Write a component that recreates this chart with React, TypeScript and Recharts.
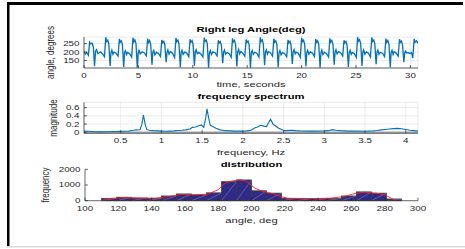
import { LineChart, Line, XAxis, YAxis, CartesianGrid, ComposedChart, ReferenceArea, ReferenceLine } from "recharts";

const FONT = "'Liberation Sans', Arial, Helvetica, sans-serif";
const SX = 1.4; // the source figure is stretched sideways
const INK = "#262626";

// --- time series ---
const timeTicks = [0, 5, 10, 15, 20, 25, 30];
const angleTicks = [150, 200, 250];
const angleSamples: [number, number][] = [
  [0, 205], [0.12, 188], [0.25, 198], [0.4, 182], [0.52, 258], [0.62, 248], [0.75, 252], [0.86, 230], [0.97, 116], [1.06, 205], [1.15, 214], [1.28, 190], [1.4, 196],
  [1.5, 201], [1.7, 190], [1.88, 172], [2.0, 288], [2.08, 262], [2.18, 270], [2.28, 248], [2.4, 118], [2.48, 196], [2.56, 212], [2.66, 187],
  [2.75, 200], [2.95, 193], [3.13, 176], [3.25, 278], [3.33, 258], [3.43, 266], [3.53, 244], [3.65, 112], [3.73, 199], [3.81, 208], [3.91, 185],
  [4.0, 198], [4.2, 190], [4.38, 170], [4.5, 285], [4.58, 260], [4.68, 272], [4.78, 250], [4.9, 107], [4.98, 194], [5.06, 215], [5.16, 189],
  [5.35, 202], [5.55, 195], [5.73, 178], [5.85, 280], [5.93, 256], [6.03, 268], [6.13, 246], [6.25, 125], [6.33, 200], [6.41, 210], [6.51, 184],
  [6.65, 199], [6.85, 191], [7.03, 174], [7.15, 272], [7.23, 255], [7.33, 263], [7.43, 242], [7.55, 140], [7.63, 197], [7.71, 213], [7.81, 188],
  [7.95, 203], [8.15, 192], [8.33, 168], [8.45, 283], [8.53, 261], [8.63, 270], [8.73, 249], [8.85, 110], [8.93, 198], [9.01, 211], [9.11, 186],
  [9.25, 200], [9.45, 194], [9.63, 173], [9.75, 276], [9.83, 259], [9.93, 267], [10.03, 245], [10.15, 120], [10.23, 202], [10.31, 214], [10.41, 190],
  [10.55, 198], [10.75, 189], [10.93, 171], [11.05, 285], [11.13, 263], [11.23, 271], [11.33, 251], [11.45, 108], [11.53, 195], [11.61, 209], [11.71, 185],
  [11.85, 201], [12.05, 196], [12.23, 177], [12.35, 270], [12.43, 254], [12.53, 262], [12.63, 240], [12.75, 135], [12.83, 199], [12.91, 212], [13.01, 187],
  [13.15, 197], [13.35, 190], [13.53, 169], [13.65, 281], [13.73, 260], [13.83, 269], [13.93, 247], [14.05, 115], [14.13, 201], [14.21, 216], [14.31, 189],
  [14.4, 203], [14.6, 193], [14.78, 175], [14.9, 274], [14.98, 257], [15.08, 265], [15.18, 243], [15.3, 108], [15.38, 196], [15.46, 210], [15.56, 186],
  [15.7, 199], [15.9, 192], [16.08, 170], [16.2, 286], [16.28, 262], [16.38, 272], [16.48, 250], [16.6, 122], [16.68, 200], [16.76, 213], [16.86, 188],
  [16.95, 202], [17.15, 195], [17.33, 176], [17.45, 279], [17.53, 258], [17.63, 266], [17.73, 246], [17.85, 110], [17.93, 197], [18.01, 209], [18.11, 184],
  [18.25, 198], [18.45, 190], [18.63, 172], [18.75, 272], [18.83, 255], [18.93, 264], [19.03, 241], [19.15, 130], [19.23, 203], [19.31, 215], [19.41, 190],
  [19.5, 200], [19.7, 193], [19.88, 169], [20.0, 284], [20.08, 261], [20.18, 270], [20.28, 248], [20.4, 115], [20.48, 198], [20.56, 211], [20.66, 187],
  [20.8, 201], [21.0, 194], [21.18, 174], [21.3, 277], [21.38, 257], [21.48, 267], [21.58, 244], [21.7, 108], [21.78, 195], [21.86, 212], [21.96, 185],
  [22.1, 199], [22.3, 191], [22.48, 171], [22.6, 281], [22.68, 259], [22.78, 268], [22.88, 247], [23.0, 125], [23.08, 201], [23.16, 214], [23.26, 189],
  [23.4, 203], [23.6, 195], [23.78, 177], [23.9, 270], [23.98, 254], [24.08, 263], [24.18, 241], [24.3, 112], [24.38, 197], [24.46, 210], [24.56, 186],
  [24.65, 198], [24.85, 190], [25.03, 168], [25.15, 288], [25.23, 264], [25.33, 273], [25.43, 252], [25.55, 118], [25.63, 199], [25.71, 213], [25.81, 188],
  [25.95, 201], [26.15, 193], [26.33, 170], [26.45, 287], [26.53, 263], [26.63, 271], [26.73, 250], [26.85, 128], [26.93, 200], [27.01, 212], [27.11, 187],
  [27.25, 199], [27.45, 192], [27.63, 173], [27.75, 280], [27.83, 258], [27.93, 268], [28.03, 246], [28.15, 110], [28.23, 196], [28.31, 211], [28.41, 186],
  [28.5, 202], [28.7, 194], [28.88, 175], [29.0, 276], [29.08, 257], [29.18, 265], [29.28, 243], [29.4, 140], [29.48, 198], [29.56, 206], [29.66, 195],
  [29.8, 197], [29.95, 192], [30.1, 198], [30.22, 165], [30.35, 278], [30.43, 258], [30.55, 266], [30.7, 252],
];

// --- spectrum ---
const freqTicks = [0.5, 1, 1.5, 2, 2.5, 3, 3.5, 4];
const magTicks = [0, 0.2, 0.4, 0.6];
const spectrum: [number, number][] = [
  [0.05, 0.03], [0.1, 0.025], [0.15, 0.02], [0.2, 0.015], [0.25, 0.01], [0.3, 0.012], [0.35, 0.015], [0.4, 0.02],
  [0.45, 0.018], [0.5, 0.022], [0.55, 0.025], [0.6, 0.03], [0.63, 0.045], [0.66, 0.05], [0.69, 0.06], [0.72, 0.055],
  [0.74, 0.07], [0.76, 0.2], [0.78, 0.42], [0.8, 0.2], [0.82, 0.07], [0.85, 0.05], [0.9, 0.04], [0.95, 0.035],
  [1.0, 0.03], [1.05, 0.025], [1.1, 0.03], [1.15, 0.035], [1.2, 0.045], [1.25, 0.05], [1.3, 0.06], [1.35, 0.08],
  [1.38, 0.12], [1.42, 0.13], [1.46, 0.16], [1.49, 0.18], [1.52, 0.12], [1.54, 0.3], [1.56, 0.57], [1.58, 0.35],
  [1.6, 0.17], [1.63, 0.14], [1.67, 0.1], [1.72, 0.06], [1.78, 0.04], [1.85, 0.035], [1.9, 0.03], [2.0, 0.03],
  [2.05, 0.035], [2.1, 0.05], [2.15, 0.11], [2.18, 0.13], [2.22, 0.17], [2.26, 0.15], [2.29, 0.14], [2.32, 0.25],
  [2.34, 0.32], [2.37, 0.2], [2.4, 0.16], [2.44, 0.1], [2.48, 0.06], [2.52, 0.04], [2.6, 0.05], [2.65, 0.04],
  [2.7, 0.035], [2.8, 0.03], [2.9, 0.03], [3.0, 0.035], [3.05, 0.04], [3.1, 0.065], [3.14, 0.05], [3.2, 0.04],
  [3.3, 0.03], [3.4, 0.03], [3.5, 0.025], [3.6, 0.035], [3.65, 0.045], [3.7, 0.06], [3.75, 0.07], [3.8, 0.08],
  [3.85, 0.09], [3.9, 0.095], [3.95, 0.085], [4.0, 0.07], [4.05, 0.05], [4.1, 0.04], [4.15, 0.03],
];

// --- histogram ---
const degTicks = [100, 120, 140, 160, 180, 200, 220, 240, 260, 280, 300];
const countTicks = [0, 1000, 2000];
const binEdges = [110, 119, 128, 137, 146, 155, 164, 173, 182, 191, 200, 209, 218, 227, 236, 245, 254, 263, 272, 281, 290];
const binCounts = [150, 220, 170, 150, 300, 430, 370, 500, 1210, 1320, 630, 480, 150, 130, 130, 150, 300, 560, 480, 110];
const fitCurve: [number, number][] = [
  [111, 90], [115, 140], [124, 190], [133, 165], [142, 160], [150, 260], [158, 400], [166, 370], [174, 420],
  [180, 700], [184, 1100], [188, 1250], [193, 1330], [197, 1250], [202, 800], [206, 620], [212, 470], [218, 250],
  [222, 150], [230, 140], [240, 140], [248, 160], [256, 280], [263, 480], [268, 540], [275, 470], [280, 380],
  [284, 150], [287, 0],
];

const angleData = angleSamples.map(([t, v]) => ({ t, v }));
const spectrumData = spectrum.map(([f, m]) => ({ f, m }));
const fitData = fitCurve.map(([a, n]) => ({ a, n }));

const axisLine = { stroke: INK, strokeWidth: 0.7 };
const tickLine = { stroke: INK, strokeWidth: 0.7 };

function StretchText({ x, y, anchor = "middle", size = 8, weight = 400, rotate = 0, dy, fill = INK, children }: any) {
  return (
    <text
      transform={`translate(${x},${y}) scale(${SX},1)${rotate ? ` rotate(${rotate})` : ""}`}
      textAnchor={anchor}
      fontFamily={FONT}
      fontSize={size}
      fontWeight={weight}
      fill={fill}
      dy={dy}
    >
      {children}
    </text>
  );
}

const xTick = (p: any) => (
  <StretchText x={p.x} y={p.y} size={7} dy="0.71em">{String(p.payload.value)}</StretchText>
);
const yTick = (p: any) => (
  <StretchText x={p.x} y={p.y} size={7} anchor="end" dy="0.35em">{String(p.payload.value)}</StretchText>
);

// bar with the light diagonal MATLAB leaves in each patch
const histBar = (p: any) => {
  const { x, y, width, height } = p;
  if (!height || height <= 0) return <g />;
  return (
    <g>
      <rect x={x} y={y} width={width} height={height} fill="#2e2a86" stroke="#3a3a3a" strokeWidth={0.8} />
      <line x1={x} y1={y + height} x2={x + width} y2={y} stroke="#8c8ccc" strokeWidth={0.5} />
    </g>
  );
};

export default function App() {
  return (
    <div style={{ position: "absolute", left: 0, top: 0, width: 465, height: 249, background: "#fff", overflow: "hidden" }}>
      <div style={{ position: "absolute", left: 0, top: 0 }}>
        <LineChart width={465} height={100} data={angleData} margin={{ top: 37, right: 47, bottom: 12, left: 54 }}>
          <CartesianGrid stroke="#e2e2e2" strokeWidth={0.7} />
          <XAxis dataKey="t" type="number" domain={[0, 30.7]} ticks={timeTicks} allowDataOverflow interval={0}
            height={20} tickSize={-3} tickMargin={8} axisLine={axisLine} tickLine={tickLine} tick={xTick} />
          <XAxis xAxisId="top" orientation="top" mirror type="number" domain={[0, 30.7]} ticks={timeTicks} allowDataOverflow
            interval={0} height={0} tick={false} tickSize={3} axisLine={axisLine} tickLine={tickLine} />
          <YAxis type="number" domain={[106, 289]} ticks={angleTicks} allowDataOverflow interval={0}
            width={30} tickSize={-3} tickMargin={7.5} axisLine={axisLine} tickLine={tickLine} tick={yTick} />
          <YAxis yAxisId="right" orientation="right" mirror type="number" domain={[106, 289]} ticks={angleTicks} allowDataOverflow
            interval={0} width={0} tick={false} tickSize={3} axisLine={axisLine} tickLine={tickLine} />
          <Line dataKey="v" stroke="#0072BD" strokeWidth={1.3} dot={false} isAnimationActive={false} />
        </LineChart>
      </div>

      <div style={{ position: "absolute", left: 0, top: 80 }}>
        <LineChart width={465} height={80} data={spectrumData} margin={{ top: 22.3, right: 47, bottom: 6.7, left: 54 }}>
          <CartesianGrid stroke="#e2e2e2" strokeWidth={0.7} />
          <ReferenceLine y={0} stroke="#a5a5a5" strokeWidth={1.6} />
          <XAxis dataKey="f" type="number" domain={[0.05, 4.15]} ticks={freqTicks} allowDataOverflow interval={0}
            height={20} tickSize={-3} tickMargin={8} axisLine={axisLine} tickLine={tickLine} tick={xTick} />
          <XAxis xAxisId="top" orientation="top" mirror type="number" domain={[0.05, 4.15]} ticks={freqTicks} allowDataOverflow
            interval={0} height={0} tick={false} tickSize={3} axisLine={axisLine} tickLine={tickLine} />
          <YAxis type="number" domain={[-0.024, 0.73]} ticks={magTicks} allowDataOverflow interval={0}
            width={30} tickSize={-3} tickMargin={7.5} axisLine={axisLine} tickLine={tickLine} tick={yTick} />
          <YAxis yAxisId="right" orientation="right" mirror type="number" domain={[-0.024, 0.73]} ticks={magTicks} allowDataOverflow
            interval={0} width={0} tick={false} tickSize={3} axisLine={axisLine} tickLine={tickLine} />
          <Line dataKey="m" stroke="#0072BD" strokeWidth={1.1} dot={false} isAnimationActive={false} />
        </LineChart>
      </div>

      <div style={{ position: "absolute", left: 0, top: 150 }}>
        <ComposedChart width={465} height={80} data={fitData} margin={{ top: 19.3, right: 47, bottom: 9.3, left: 55 }}>
          <XAxis dataKey="a" type="number" domain={[100, 300]} ticks={degTicks} allowDataOverflow interval={0}
            height={20} tickSize={-3} tickMargin={8} axisLine={axisLine} tickLine={tickLine} tick={xTick} />
          <XAxis xAxisId="top" orientation="top" mirror type="number" domain={[100, 300]} ticks={degTicks} allowDataOverflow
            interval={0} height={0} tick={false} tickSize={3} axisLine={axisLine} tickLine={tickLine} />
          <YAxis type="number" domain={[0, 2000]} ticks={countTicks} allowDataOverflow interval={0}
            width={30} tickSize={-3} tickMargin={7.5} axisLine={axisLine} tickLine={tickLine} tick={yTick} />
          <YAxis yAxisId="right" orientation="right" mirror type="number" domain={[0, 2000]} ticks={countTicks} allowDataOverflow
            interval={0} width={0} tick={false} tickSize={3} axisLine={axisLine} tickLine={tickLine} />
          {binCounts.map((c, i) => (
            <ReferenceArea key={i} x1={binEdges[i]} x2={binEdges[i + 1]} y1={0} y2={c} fillOpacity={1} shape={histBar} />
          ))}
          <Line dataKey="n" stroke="#ff2020" strokeWidth={0.9} dot={false} isAnimationActive={false} />
        </ComposedChart>
      </div>

      <svg width={465} height={249} style={{ position: "absolute", left: 0, top: 0, pointerEvents: "none" }}>
        <rect x={7} y={2} width={456} height={3} fill="#000" />
        <rect x={7} y={2} width={2.5} height={245} fill="#000" />
        <rect x={7} y={246} width={458} height={1.5} fill="#d9d9d9" />

        <StretchText x={251} y={31.5} weight={700} fill="#000">Right leg Angle(deg)</StretchText>
        <StretchText x={251} y={87}>time, seconds</StretchText>
        <StretchText x={54.3} y={52.5} rotate={-90}>angle, degrees</StretchText>

        <StretchText x={251} y={98.7} weight={700} fill="#000">frequency spectrum</StretchText>
        <StretchText x={251} y={155}>frequency, Hz</StretchText>
        <StretchText x={57} y={118} rotate={-90}>magnitude</StretchText>

        <StretchText x={251.5} y={166.5} weight={700} fill="#000">distribution</StretchText>
        <StretchText x={251.5} y={222.5}>angle, deg</StretchText>
        <StretchText x={49.3} y={185} rotate={-90}>frequency</StretchText>
      </svg>
    </div>
  );
}
